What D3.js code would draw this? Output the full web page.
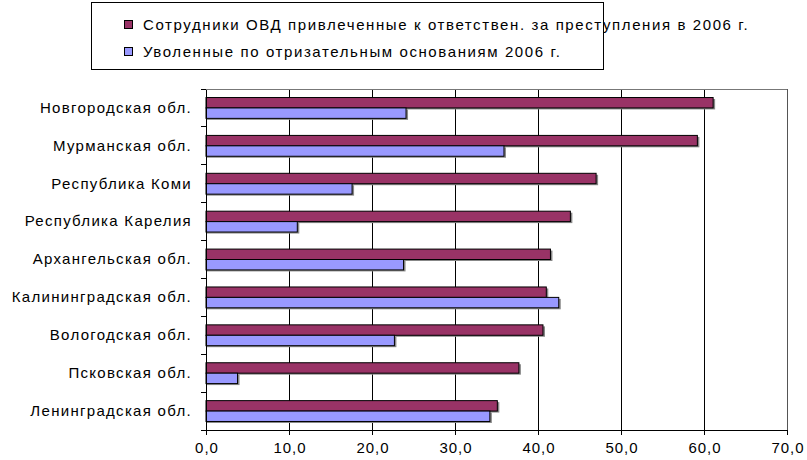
<!DOCTYPE html>
<html><head><meta charset="utf-8">
<script src="https://cdn.jsdelivr.net/npm/d3@7"></script>
<style>
html,body{margin:0;padding:0;background:#fff;}
svg text{font-family:"Liberation Sans",Arial,sans-serif;fill:#000;}
</style></head>
<body><svg id="c" width="807" height="460"></svg>
<script>
const categories = ["Новгородская обл.","Мурманская обл.","Республика Коми","Республика Карелия","Архангельская обл.","Калининградская обл.","Вологодская обл.","Псковская обл.","Ленинградская обл."];
const seriesNames = ["Сотрудники ОВД привлеченные к ответствен. за преступления в 2006 г.","Уволенные по отризательным основаниям 2006 г."];
const prosecuted = [61.1,59.2,47.0,43.9,41.5,41.0,40.6,37.7,35.1];
const dismissed = [24.1,35.9,17.6,11.0,23.8,42.5,22.7,3.8,34.2];
const xTicks = [0,10,20,30,40,50,60,70];
const colors = ["#993366","#9999FF"];

const svg = d3.select("#c");
const L=206,R=787,T=89,B=430;
const x = d3.scaleLinear().domain([0,70]).range([L,R]);
const y = d3.scaleBand().domain(categories).range([T,B]);
const bw = y.bandwidth();
const sub = d3.scaleBand().domain([0,1]).range([bw*0.225,bw*0.775]);

// grid
svg.append("g").selectAll("line").data(xTicks.slice(1)).join("line")
  .attr("x1",d=>x(d)).attr("x2",d=>x(d)).attr("y1",T).attr("y2",B)
  .attr("stroke",d=>d===70?"#555":"#000").attr("stroke-width",1).attr("shape-rendering","crispEdges");
svg.append("line").attr("x1",L).attr("x2",R).attr("y1",T).attr("y2",T).attr("stroke","#777").attr("shape-rendering","crispEdges");

const data = categories.map((c,i)=>({c,v:[prosecuted[i],dismissed[i]]}));
const g = svg.append("g");
data.forEach(d=>{
  d.v.forEach((v,s)=>{
    const yy = y(d.c)+sub(s);
    g.append("rect").attr("x",x(0)+1).attr("y",yy+1.5).attr("width",x(v)-x(0)+1).attr("height",sub.bandwidth())
      .attr("fill","#888");
  });
  d.v.forEach((v,s)=>{
    const yy = y(d.c)+sub(s);
    g.append("rect").attr("x",x(0)).attr("y",yy).attr("width",x(v)-x(0)).attr("height",sub.bandwidth())
      .attr("fill",colors[s]).attr("stroke","#000").attr("stroke-width",1);
  });
});

// axes
const xa = svg.append("g").attr("transform",`translate(0,${B})`)
  .call(d3.axisBottom(x).tickValues(xTicks).tickSize(5).tickPadding(7).tickFormat(d=>d3.format(".1f")(d).replace(".",",")));
xa.select(".domain").attr("stroke","#000");
xa.selectAll("text").attr("font-size","15px").attr("letter-spacing","1px").attr("dx","0.5px");
const ya = svg.append("g").attr("transform",`translate(${L},0)`)
  .call(d3.axisLeft(y).tickSize(0).tickPadding(14));
ya.select(".domain").attr("stroke","#000");
ya.selectAll("text").attr("font-size","15px").attr("letter-spacing","1.3px");
// category boundary ticks
svg.append("g").selectAll("line").data(d3.range(categories.length+1)).join("line")
  .attr("x1",L-5).attr("x2",L).attr("y1",i=>T+i*bw).attr("y2",i=>T+i*bw).attr("stroke","#000").attr("shape-rendering","crispEdges");
svg.selectAll(".domain").attr("shape-rendering","crispEdges");

// legend
const lg = svg.append("g");
lg.append("rect").attr("x",91.5).attr("y",2.5).attr("width",512).attr("height",67).attr("fill","#fff").attr("stroke","#000");
seriesNames.forEach((n,i)=>{
  const cy = 25+i*27;
  lg.append("rect").attr("x",124.5).attr("y",cy-4.5).attr("width",8).attr("height",8).attr("fill",colors[i]).attr("stroke","#000");
  lg.append("text").attr("x",143).attr("y",cy).attr("dy","0.35em").attr("font-size","15px").attr("letter-spacing","1.6px").text(n);
});
</script></body></html>
